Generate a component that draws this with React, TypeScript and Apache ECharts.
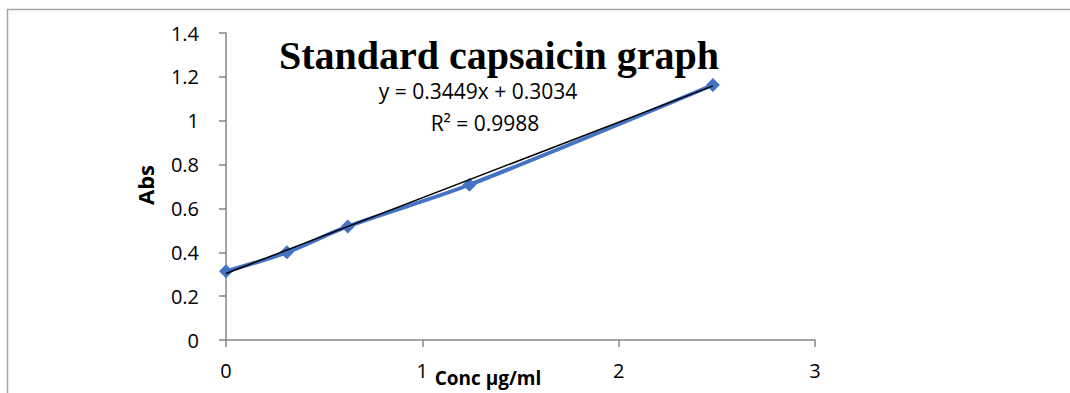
import React, { useEffect, useRef } from "react";
import * as echarts from "echarts";

const conc = [0, 0.31, 0.62, 1.24, 2.48];
const abs = [0.313, 0.4, 0.518, 0.708, 1.163];
const slope = 0.3449;
const intercept = 0.3034;
const xTicks = [0, 1, 2, 3];
const yTicks = [0, 0.2, 0.4, 0.6, 0.8, 1, 1.2, 1.4];
const titleText = "Standard capsaicin graph";
const eqText = "y = 0.3449x + 0.3034";
const r2Text = "R² = 0.9988";
const xName = "Conc µg/ml";
const yName = "Abs";

export default function App() {
  const ref = useRef<HTMLDivElement>(null);
  useEffect(() => {
    document.body.style.margin = "0";
    const chart = echarts.init(ref.current!, null, { renderer: "svg" });
    const trendX = [conc[0], conc[conc.length - 1]];
    const sans = "Open Sans, Liberation Sans, sans-serif";
    chart.setOption({
      animation: false,
      backgroundColor: "#fff",
      grid: { left: 226, right: 255, top: 33, bottom: 53 },
      xAxis: {
        type: "value",
        min: xTicks[0],
        max: xTicks[xTicks.length - 1],
        interval: 1,
        axisLine: { lineStyle: { color: "#868686", width: 1.5 } },
        axisTick: { show: true, length: 7, lineStyle: { color: "#868686", width: 1.5 } },
        splitLine: { show: false },
        axisLabel: { color: "#000", fontSize: 20, margin: 20, fontFamily: sans },
      },
      yAxis: {
        type: "value",
        min: yTicks[0],
        max: yTicks[yTicks.length - 1],
        interval: 0.2,
        axisLine: { show: true, lineStyle: { color: "#868686", width: 1.5 } },
        axisTick: { show: true, length: 7, lineStyle: { color: "#868686", width: 1.5 } },
        splitLine: { show: false },
        axisLabel: { color: "#000", fontSize: 20, margin: 27, fontFamily: sans },
      },
      series: [
        {
          type: "line",
          data: conc.map((x, i) => [x, abs[i]]),
          smooth: 0.3,
          symbol: "diamond",
          symbolSize: 14,
          lineStyle: { color: "#4472C4", width: 4 },
          itemStyle: { color: "#4472C4" },
          z: 2,
        },
        {
          type: "line",
          data: trendX.map((x) => [x, slope * x + intercept]),
          symbol: "none",
          lineStyle: { color: "#000", width: 1.5 },
          z: 3,
        },
      ],
      graphic: [
        {
          type: "polyline",
          shape: { points: [[7.5, 400], [7.5, 9.5], [1080, 9.5]] },
          style: { fill: "none", stroke: "#a6a6a6", lineWidth: 1.5 },
          z: -1,
        },
        {
          type: "text",
          x: 499,
          y: 55,
          style: {
            text: titleText,
            font: "bold 40px 'Liberation Serif', 'Times New Roman', serif",
            fill: "#000",
            align: "center",
            verticalAlign: "middle",
          },
        },
        {
          type: "text",
          x: 478,
          y: 91,
          style: {
            text: eqText,
            font: "21px " + sans,
            fill: "#000",
            align: "center",
            verticalAlign: "middle",
          },
        },
        {
          type: "text",
          x: 485,
          y: 123,
          style: {
            text: r2Text,
            font: "21px " + sans,
            fill: "#000",
            align: "center",
            verticalAlign: "middle",
          },
        },
        {
          type: "text",
          x: 488,
          y: 378,
          style: {
            text: xName,
            font: "bold 19px " + sans,
            fill: "#000",
            align: "center",
            verticalAlign: "middle",
          },
        },
        {
          type: "text",
          x: 145,
          y: 185,
          rotation: Math.PI / 2,
          style: {
            text: yName,
            font: "bold 22px " + sans,
            fill: "#000",
            align: "center",
            verticalAlign: "middle",
          },
        },
      ],
    });
    return () => chart.dispose();
  }, []);
  return <div ref={ref} style={{ width: 1070, height: 393 }} />;
}
